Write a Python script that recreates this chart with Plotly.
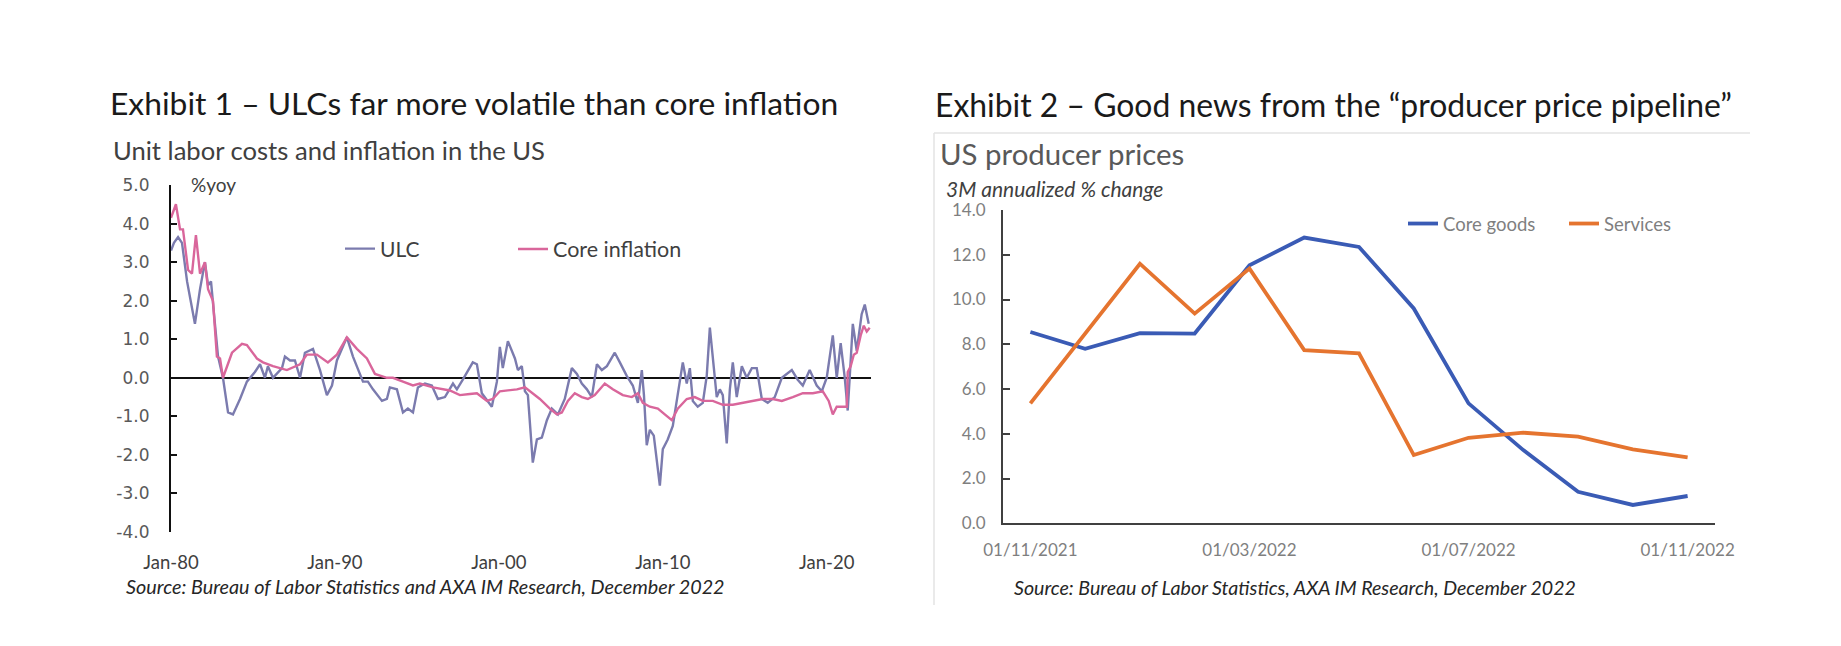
import plotly.graph_objects as go

W, H = 1841, 646

# ---------------- Exhibit 1 data ----------------
ulc_year = [1980.00, 1980.18, 1980.43, 1980.67, 1980.98, 1981.46, 1981.77, 1982.07, 1982.26, 1982.44,
            1982.68, 1982.87, 1983.17, 1983.48, 1983.78, 1984.21, 1984.63, 1985.12, 1985.43, 1985.73,
            1985.91, 1986.22, 1986.77, 1986.95, 1987.26, 1987.56, 1987.87, 1988.17, 1988.66, 1989.09,
            1989.51, 1989.82, 1990.12, 1990.73, 1991.10, 1991.71, 1992.01, 1992.32, 1992.87, 1993.17,
            1993.35, 1993.78, 1994.15, 1994.45, 1994.76, 1995.06, 1995.49, 1995.91, 1996.28, 1996.71,
            1997.20, 1997.44, 1997.80, 1998.41, 1998.66, 1998.96, 1999.57, 1999.88, 2000.06, 2000.24,
            2000.55, 2000.98, 2001.16, 2001.40, 2001.59, 2001.77, 2002.07, 2002.32, 2002.62, 2002.93,
            2003.23, 2003.60, 2004.02, 2004.45, 2004.76, 2005.06, 2005.37, 2005.67, 2005.98, 2006.28,
            2006.59, 2007.07, 2007.38, 2007.80, 2008.17, 2008.48, 2008.72, 2008.85, 2009.02, 2009.21,
            2009.45, 2009.82, 2010.00, 2010.30, 2010.61, 2011.04, 2011.22, 2011.46, 2011.65, 2011.83,
            2012.13, 2012.44, 2012.68, 2012.87, 2013.05, 2013.29, 2013.48, 2013.66, 2013.90, 2014.09,
            2014.27, 2014.51, 2014.82, 2015.12, 2015.43, 2015.73, 2016.04, 2016.40, 2016.83, 2017.26,
            2017.87, 2018.23, 2018.54, 2018.96, 2019.39, 2019.70, 2020.00, 2020.37, 2020.61, 2020.85,
            2021.10, 2021.28, 2021.40, 2021.59, 2021.83, 2022.13, 2022.32, 2022.56]
ulc_value = [3.3, 3.5, 3.65, 3.5, 2.5, 1.4, 2.3, 3.0, 2.4, 2.5,
             1.4, 0.55, 0.0, -0.9, -0.95, -0.55, -0.1, 0.15, 0.35, 0.0,
             0.3, 0.0, 0.25, 0.55, 0.45, 0.45, 0.0, 0.65, 0.75, 0.2,
             -0.45, -0.2, 0.45, 1.05, 0.55, -0.1, -0.1, -0.3, -0.6, -0.55,
             -0.25, -0.3, -0.9, -0.8, -0.9, -0.25, -0.15, -0.2, -0.55, -0.5,
             -0.15, -0.3, -0.05, 0.4, 0.35, -0.4, -0.75, -0.1, 0.8, 0.25,
             0.95, 0.5, 0.2, 0.3, -0.35, -0.45, -2.2, -1.6, -1.55, -1.1,
             -0.8, -0.95, -0.55, 0.25, 0.1, -0.15, -0.3, -0.5, 0.35, 0.2,
             0.3, 0.65, 0.4, 0.05, -0.2, -0.65, 0.2, -0.45, -1.75, -1.35,
             -1.5, -2.8, -1.85, -1.6, -1.25, 0.0, 0.4, -0.15, 0.25, -0.6,
             -0.75, -0.65, 0.05, 1.3, 0.45, -0.5, -0.3, -0.45, -1.7, -0.3,
             0.4, -0.5, 0.3, 0.0, 0.25, 0.25, -0.55, -0.65, -0.5, 0.0,
             0.2, -0.05, -0.2, 0.2, -0.2, -0.35, 0.0, 1.1, 0.0, 0.9,
             0.0, -0.85, 0.0, 1.4, 0.7, 1.65, 1.9, 1.4]

core_year = [1980.00, 1980.30, 1980.55, 1980.73, 1981.04, 1981.28, 1981.52, 1981.77, 1982.07, 1982.26,
             1982.56, 1982.80, 1982.99, 1983.17, 1983.72, 1984.33, 1984.63, 1985.24, 1985.61, 1986.22,
             1987.07, 1987.87, 1988.29, 1988.90, 1989.57, 1990.12, 1990.73, 1991.34, 1991.95, 1992.44,
             1993.17, 1993.54, 1994.15, 1994.76, 1995.18, 1995.98, 1997.01, 1997.62, 1998.23, 1998.66,
             1999.27, 1999.63, 2000.06, 2000.55, 2001.10, 2001.59, 2001.89, 2002.50, 2003.11, 2003.54,
             2003.84, 2004.21, 2004.63, 2005.06, 2005.43, 2005.85, 2006.46, 2006.95, 2007.56, 2008.11,
             2008.48, 2008.78, 2009.21, 2009.70, 2010.12, 2010.55, 2010.91, 2011.46, 2011.95, 2012.44,
             2013.05, 2013.66, 2014.27, 2014.88, 2015.49, 2016.10, 2016.71, 2017.26, 2017.93, 2018.54,
             2019.15, 2019.76, 2020.12, 2020.37, 2020.61, 2020.91, 2021.22, 2021.28, 2021.46, 2021.65,
             2021.83, 2022.07, 2022.26, 2022.44, 2022.62]
core_value = [4.15, 4.5, 3.85, 3.85, 2.8, 2.7, 3.7, 2.7, 3.0, 2.3,
              2.0, 0.55, 0.5, 0.0, 0.65, 0.88, 0.85, 0.5, 0.4, 0.3,
              0.2, 0.35, 0.6, 0.6, 0.4, 0.6, 1.05, 0.75, 0.5, 0.1,
              0.0, 0.0, -0.1, -0.2, -0.15, -0.25, -0.33, -0.45, -0.42, -0.4,
              -0.6, -0.55, -0.35, -0.32, -0.3, -0.25, -0.35, -0.55, -0.8, -0.95,
              -0.9, -0.6, -0.4, -0.5, -0.55, -0.45, -0.15, -0.3, -0.45, -0.5,
              -0.4, -0.65, -0.75, -0.8, -0.95, -1.1, -0.8, -0.55, -0.5, -0.6,
              -0.6, -0.7, -0.7, -0.65, -0.6, -0.55, -0.55, -0.6, -0.5, -0.4,
              -0.4, -0.35, -0.6, -0.95, -0.75, -0.75, -0.75, 0.15, 0.3, 0.6,
              0.65, 1.1, 1.35, 1.2, 1.3]

ex1_xtick_vals = [1980, 1990, 2000, 2010, 2020]
ex1_xtick_text = ["Jan-80", "Jan-90", "Jan-00", "Jan-10", "Jan-20"]
ex1_minor_ticks = [1985, 1990, 1995, 2000, 2005, 2010, 2015, 2020]
ex1_ytick_vals = [-4, -3, -2, -1, 0, 1, 2, 3, 4, 5]
ex1_ytick_text = ["-4.0", "-3.0", "-2.0", "-1.0", "0.0", "1.0", "2.0", "3.0", "4.0", "5.0"]

# ---------------- Exhibit 2 data ----------------
months = ["2021-11", "2021-12", "2022-01", "2022-02", "2022-03", "2022-04", "2022-05",
          "2022-06", "2022-07", "2022-08", "2022-09", "2022-10", "2022-11"]
core_goods = [8.55, 7.8, 8.5, 8.48, 11.53, 12.77, 12.35, 9.6, 5.36, 3.27, 1.41, 0.82, 1.22]
services = [5.36, 8.5, 11.6, 9.37, 11.38, 7.74, 7.59, 3.05, 3.82, 4.05, 3.87, 3.3, 2.95]
ex2_xtick_idx = [0, 4, 8, 12]
ex2_xtick_text = ["01/11/2021", "01/03/2022", "01/07/2022", "01/11/2022"]
ex2_boundary_ticks = [3.5, 7.5, 11.5]

# ---------------- helpers ----------------
# the page body keeps its default 8px margin, so compensate for it
OFF = 8

def px_x(p):
    return (p - OFF) / W

def px_y(p):
    return 1 - (p - OFF) / H

FONT = "Lato"
GREY = "#595959"

ULC_C = "#7B7BAE"
CORE_C = "#D9669B"
BLUE_C = "#3A5BB5"
ORANGE_C = "#E5742F"

month_idx = list(range(len(months)))

fig = go.Figure()

fig.add_trace(go.Scatter(x=ulc_year, y=ulc_value, mode="lines", name="ULC",
                         line=dict(color=ULC_C, width=2.4), xaxis="x", yaxis="y", legend="legend"))
fig.add_trace(go.Scatter(x=core_year, y=core_value, mode="lines", name="Core inflation",
                         line=dict(color=CORE_C, width=2.4), xaxis="x", yaxis="y", legend="legend2"))
fig.add_trace(go.Scatter(x=month_idx, y=core_goods, mode="lines", name="Core goods",
                         line=dict(color=BLUE_C, width=3.8), xaxis="x2", yaxis="y2", legend="legend3"))
fig.add_trace(go.Scatter(x=month_idx, y=services, mode="lines", name="Services",
                         line=dict(color=ORANGE_C, width=3.8), xaxis="x2", yaxis="y2", legend="legend4"))

# domains (pixels in the target picture)
L_x0, L_x1 = 171, 871
L_ytop, L_ybot = 185, 532
R_x0, R_x1 = 1003, 1715
R_ytop, R_ybot = 210, 523.3

ex1_range = [1980, 2022.7]
zero_px = L_ybot - (L_ybot - L_ytop) * 4 / 9

layout = dict(
    width=W, height=H,
    margin=dict(l=0, r=0, t=0, b=0, autoexpand=False),
    paper_bgcolor="white", plot_bgcolor="white",
    showlegend=True,
    font=dict(family=FONT, color=GREY),
    xaxis=dict(domain=[px_x(L_x0), px_x(L_x1)], range=ex1_range, anchor="y", automargin=False,
               showgrid=False, zeroline=False, showline=False, ticks="",
               tickmode="array", tickvals=ex1_xtick_vals, ticktext=ex1_xtick_text,
               ticklabelstandoff=17, tickfont=dict(family=FONT, size=18.5, color="#404040")),
    yaxis=dict(domain=[px_y(L_ybot), px_y(L_ytop)], range=[-4, 5], anchor="x", automargin=False,
               tickmode="array", tickvals=ex1_ytick_vals, ticktext=ex1_ytick_text, showgrid=False,
               zeroline=True, zerolinecolor="#111111", zerolinewidth=2.2,
               showline=True, linecolor="#111111", linewidth=2.2,
               ticks="inside", ticklen=6, tickwidth=2, tickcolor="#111111",
               ticklabelstandoff=16, tickfont=dict(family="DejaVu Sans", size=17, color=GREY)),
    xaxis3=dict(overlaying="x", anchor="free", position=px_y(zero_px - 4), range=ex1_range,
                automargin=False,
                showgrid=False, zeroline=False, showline=False, showticklabels=False,
                tickmode="array", tickvals=ex1_minor_ticks, ticks="outside", ticklen=8,
                tickwidth=2, tickcolor="#111111"),
    xaxis2=dict(domain=[px_x(R_x0), px_x(R_x1)], range=[-0.5, 12.5], anchor="y2", automargin=False,
                showgrid=False, zeroline=False, showline=True, linecolor="#404040", linewidth=2,
                ticks="", tickmode="array", tickvals=ex2_xtick_idx, ticktext=ex2_xtick_text,
                ticklabelstandoff=10, tickfont=dict(family=FONT, size=17, color="#7F7F7F")),
    xaxis4=dict(overlaying="x2", anchor="y2", range=[-0.5, 12.5], automargin=False,
                showgrid=False, zeroline=False, showline=False, showticklabels=False,
                tickmode="array", tickvals=ex2_boundary_ticks, ticks="outside", ticklen=7,
                tickwidth=2, tickcolor="#404040"),
    yaxis2=dict(domain=[px_y(R_ybot), px_y(R_ytop)], range=[0, 14], anchor="x2", automargin=False,
                dtick=2, tickformat=".1f", showgrid=False, zeroline=False,
                showline=True, linecolor="#404040", linewidth=2,
                ticks="inside", ticklen=7, tickwidth=2, tickcolor="#404040",
                ticklabelstandoff=12, tickfont=dict(family=FONT, size=17, color="#7F7F7F")),
)

legend_common = dict(orientation="h", xanchor="left", yanchor="middle", bgcolor="rgba(0,0,0,0)",
                     borderwidth=0, itemwidth=30, tracegroupgap=0, visible=True)
layout["legend"] = dict(legend_common, x=px_x(340), y=px_y(249),
                        font=dict(family=FONT, size=21, color="#404040"))
layout["legend2"] = dict(legend_common, x=px_x(513), y=px_y(249),
                         font=dict(family=FONT, size=21.5, color="#404040"))
layout["legend3"] = dict(legend_common, x=px_x(1403), y=px_y(224),
                         font=dict(family=FONT, size=18.5, color="#7F7F7F"))
layout["legend4"] = dict(legend_common, x=px_x(1564), y=px_y(224),
                         font=dict(family=FONT, size=18.5, color="#7F7F7F"))

fig.update_layout(**layout)

# frame around exhibit 2 chart
fig.add_shape(type="line", xref="paper", yref="paper",
              x0=px_x(934), x1=px_x(1750), y0=px_y(133), y1=px_y(133),
              line=dict(color="#E3E3E3", width=1.5))
fig.add_shape(type="line", xref="paper", yref="paper",
              x0=px_x(934), x1=px_x(934), y0=px_y(133), y1=px_y(605),
              line=dict(color="#E3E3E3", width=1.5))

def text(x, y, s, size, color="#1A1A1A", italic=False, xanchor="left"):
    fig.add_annotation(xref="paper", yref="paper", x=px_x(x), y=px_y(y), text=s,
                       showarrow=False, xanchor=xanchor, yanchor="middle",
                       font=dict(family=FONT, size=size, color=color,
                                 style="italic" if italic else "normal"))

text(108, 103, "Exhibit 1 – ULCs far more volatile than core inflation", 31.8)
text(933, 105, "Exhibit 2 – Good news from the “producer price pipeline”", 31.9)
text(111, 150, "Unit labor costs and inflation in the US", 25.6, color="#404040")
text(938, 153, "US producer prices", 29.4, color=GREY)
text(189, 184, "%yoy", 19, color="#404040")
text(944, 188, "3M annualized % change", 21, color="#404040", italic=True)
text(124, 586, "Source: Bureau of Labor Statistics and AXA IM Research, December 2022", 19.8,
     color="#262626", italic=True)
text(1012, 587, "Source: Bureau of Labor Statistics, AXA IM Research, December 2022", 19.6,
     color="#262626", italic=True)

fig.write_html("out.html")
